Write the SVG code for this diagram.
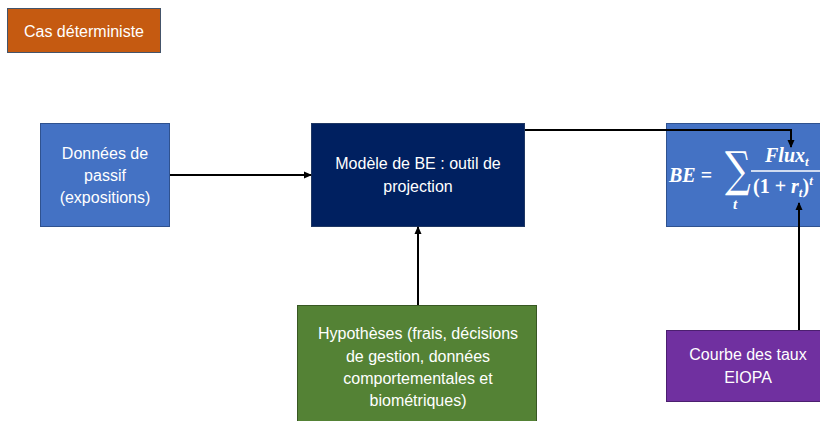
<svg xmlns="http://www.w3.org/2000/svg" width="820" height="421" viewBox="0 0 820 421">
<defs>
<marker id="arr" markerWidth="8" markerHeight="8" refX="7" refY="4" orient="auto" markerUnits="userSpaceOnUse">
<path d="M0,0.5 L8,4 L0,7.5 Z" fill="#000"/>
</marker>
<style>
.lbl{font-family:"Liberation Sans",Arial,sans-serif;font-size:16px;fill:#fff;text-anchor:middle}
.conn{stroke:#000;stroke-width:2;fill:none;marker-end:url(#arr)}
.m{font-family:"Liberation Serif","Times New Roman",serif;font-weight:bold;fill:#fff}
.mi{font-style:italic}
</style>
</defs>
<rect width="820" height="421" fill="#fff"/>
<g id="title">
<rect x="7.5" y="8.5" width="153" height="44" fill="#C55A11" stroke="#44546A" stroke-width="1"/>
<text class="lbl" x="84" y="37">Cas déterministe</text>
</g>
<g id="donnees">
<rect x="40.5" y="123.5" width="129" height="103" fill="#4472C4" stroke="#2F528F" stroke-width="1"/>
<text class="lbl" x="105" y="159">Données de</text>
<text class="lbl" x="105" y="181">passif</text>
<text class="lbl" x="105" y="203">(expositions)</text>
</g>
<g id="modele">
<rect x="311.5" y="123.5" width="213" height="103" fill="#002060" stroke="#1F3763" stroke-width="1"/>
<text class="lbl" x="418" y="169">Modèle de BE : outil de</text>
<text class="lbl" x="418" y="192">projection</text>
</g>
<g id="be">
<rect x="666.5" y="123.5" width="160" height="103" fill="#4472C4" stroke="#2F528F" stroke-width="1"/>
<text class="m" x="669" y="182" font-size="20"><tspan class="mi">BE</tspan> =</text>
<text transform="translate(725,186) scale(0.75,1)" font-size="48" fill="#fff" style="font-family:'DejaVu Serif',serif">∑</text>
<text class="m mi" x="733" y="209" font-size="15">t</text>
<line x1="751" y1="171" x2="820" y2="171" stroke="#fff" stroke-width="1.3"/>
<text class="m mi" x="765" y="162" font-size="20">Flux<tspan font-size="13" dy="4">t</tspan></text>
<text class="m" x="753" y="193" font-size="20">(1 + <tspan class="mi">r</tspan><tspan class="mi" font-size="13" dy="4">t</tspan><tspan dy="-4">)</tspan><tspan class="mi" font-size="13" dy="-8">t</tspan></text>
</g>
<g id="hypotheses">
<rect x="297.5" y="305.5" width="239" height="120" fill="#548235" stroke="#385723" stroke-width="1"/>
<text class="lbl" x="418" y="339">Hypothèses (frais, décisions</text>
<text class="lbl" x="418" y="362">de gestion, données</text>
<text class="lbl" x="418" y="384">comportementales et</text>
<text class="lbl" x="418" y="406">biométriques)</text>
</g>
<g id="courbe">
<rect x="666.5" y="330.5" width="160" height="71" fill="#7030A0" stroke="#4B1F6F" stroke-width="1"/>
<text class="lbl" x="748" y="360">Courbe des taux</text>
<text class="lbl" x="748" y="383">EIOPA</text>
</g>
<g id="connectors">
<line class="conn" x1="170" y1="175" x2="311" y2="175"/>
<line class="conn" x1="418" y1="305" x2="418" y2="227"/>
<polyline class="conn" points="525,130 791,130 791,147"/>
<line class="conn" x1="799" y1="330" x2="799" y2="203"/>
</g>
</svg>
